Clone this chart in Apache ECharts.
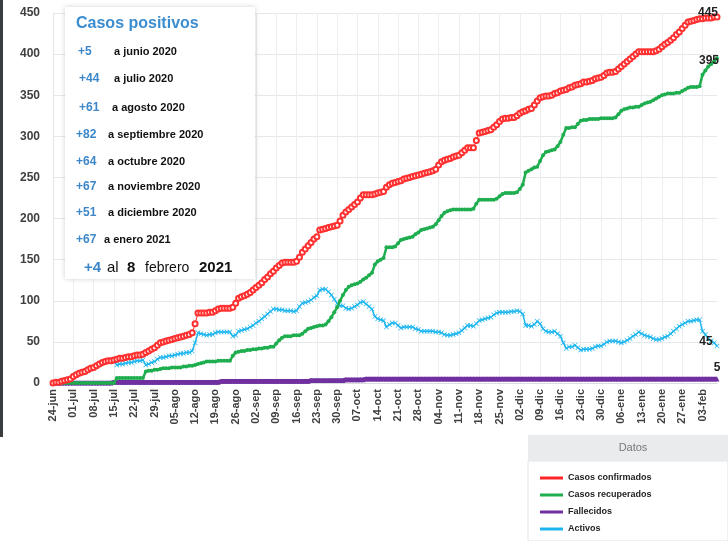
<!DOCTYPE html>
<html>
<head>
<meta charset="utf-8">
<script src="https://cdn.jsdelivr.net/npm/echarts@6/dist/echarts.min.js"></script>
<style>
html, body { margin: 0; padding: 0; background: #fff; }
#chart { width: 728px; height: 541px; }
</style>
</head>
<body>
<div id="chart"></div>
<script>
// daily values, 24-jun-2020 .. 08-feb-2021
const MONTHS = ["ene", "feb", "mar", "abr", "may", "jun", "jul", "ago", "sep", "oct", "nov", "dic"];
const START_DATE = [2020, 5, 24];
const DAY_COUNT = 230;

const confirmados = [
    0, 1, 1, 2, 3, 4, 5,
    8, 10, 12, 13, 14, 16, 18, 19, 21, 23, 25, 26, 27, 27, 28, 29, 30, 30, 31, 32, 32, 33, 34, 34, 35, 37, 39, 41, 43, 46, 49,
    50, 51, 52, 53, 54, 55, 56, 57, 58, 59, 61, 72, 85, 85, 85, 85, 86, 86, 88, 90, 91, 91, 91, 91, 92, 97, 103, 105, 106, 108, 110,
    113, 116, 119, 122, 126, 129, 133, 136, 140, 143, 146, 147, 147, 147, 147, 148, 153, 159, 163, 167, 171, 175, 178, 186, 187, 188, 189, 190, 191, 192,
    197, 204, 208, 211, 214, 217, 220, 225, 229, 229, 229, 229, 230, 231, 232, 233, 238, 241, 243, 244, 245, 246, 248, 249, 250, 251, 252, 253, 254, 255, 256,
    257, 258, 260, 265, 269, 271, 272, 273, 275, 276, 277, 280, 283, 286, 286, 286, 295, 304, 305, 306, 307, 308, 311, 314, 318, 321, 322, 322, 323, 323,
    325, 328, 330, 331, 333, 334, 338, 343, 347, 348, 349, 349, 350, 352, 353, 355, 356, 357, 359, 360, 362, 363, 364, 366, 366, 367, 368, 370, 371, 372, 374,
    377, 378, 378, 379, 382, 385, 388, 391, 394, 397, 400, 403, 403, 403, 403, 403, 403, 404, 406, 409, 412, 414, 417, 420, 424, 427, 431, 435, 439, 440, 441,
    442, 443, 443, 444, 444, 444, 445, 445
];

const recuperados = [
    0, 0, 0, 0, 0, 0, 0,
    0, 0, 0, 0, 0, 0, 0, 0, 0, 0, 0, 0, 0, 0, 0, 6, 6, 6, 6, 6, 6, 6, 6, 6, 6, 14, 15, 15, 16, 16, 17,
    18, 18, 18, 19, 19, 19, 19, 20, 20, 21, 21, 22, 23, 24, 25, 26, 26, 26, 26, 27, 27, 27, 27, 27, 33, 37, 38, 39, 39, 40, 40,
    41, 41, 42, 42, 43, 43, 44, 44, 48, 52, 55, 57, 57, 57, 58, 58, 58, 60, 63, 66, 67, 68, 69, 70, 70, 71, 75, 80, 86, 92,
    100, 107, 113, 117, 119, 120, 121, 123, 126, 128, 131, 134, 144, 148, 150, 152, 165, 165, 165, 166, 170, 174, 175, 176, 177, 178, 181, 183, 186, 187, 188,
    189, 190, 193, 198, 203, 207, 209, 210, 211, 211, 211, 211, 211, 211, 211, 212, 218, 223, 223, 223, 223, 223, 223, 224, 227, 230, 231, 231, 231, 231,
    232, 236, 241, 256, 258, 260, 262, 263, 270, 277, 281, 282, 283, 284, 288, 293, 302, 310, 310, 311, 311, 315, 319, 320, 320, 321, 321, 321, 321, 322, 322,
    322, 322, 322, 323, 327, 331, 333, 334, 335, 335, 336, 336, 338, 340, 341, 342, 344, 346, 348, 350, 351, 352, 352, 352, 353, 353, 355, 357, 359, 360, 360,
    360, 361, 375, 380, 385, 388, 391, 395
];

const fallecidos = [
    0, 0, 0, 0, 0, 0, 0,
    0, 0, 0, 0, 0, 0, 0, 0, 0, 0, 0, 0, 0, 0, 1, 1, 1, 1, 1, 1, 1, 1, 1, 1, 1, 1, 1, 1, 1, 1, 1,
    1, 1, 1, 1, 1, 1, 1, 1, 1, 1, 1, 1, 1, 1, 1, 1, 1, 1, 1, 1, 2, 2, 2, 2, 2, 2, 2, 2, 2, 2, 2,
    2, 2, 2, 2, 2, 2, 2, 2, 2, 2, 2, 2, 2, 2, 2, 2, 2, 2, 2, 2, 3, 3, 3, 3, 3, 3, 3, 3, 3, 3,
    3, 3, 4, 4, 4, 4, 4, 4, 4, 5, 5, 5, 5, 5, 5, 5, 5, 5, 5, 5, 5, 5, 5, 5, 5, 5, 5, 5, 5, 5, 5,
    5, 5, 5, 5, 5, 5, 5, 5, 5, 5, 5, 5, 5, 5, 5, 5, 5, 5, 5, 5, 5, 5, 5, 5, 5, 5, 5, 5, 5, 5,
    5, 5, 5, 5, 5, 5, 5, 5, 5, 5, 5, 5, 5, 5, 5, 5, 5, 5, 5, 5, 5, 5, 5, 5, 5, 5, 5, 5, 5, 5, 5,
    5, 5, 5, 5, 5, 5, 5, 5, 5, 5, 5, 5, 5, 5, 5, 5, 5, 5, 5, 5, 5, 5, 5, 5, 5, 5, 5, 5, 5, 5, 5,
    5, 5, 5, 5, 5, 5, 5, 5
];

const activos = [
    0, 1, 1, 2, 3, 4, 5,
    8, 10, 12, 13, 14, 16, 18, 19, 21, 23, 25, 26, 27, 27, 27, 22, 23, 23, 24, 25, 25, 26, 27, 27, 28, 22, 23, 25, 26, 29, 31,
    31, 32, 33, 33, 34, 35, 36, 36, 37, 37, 39, 49, 61, 60, 59, 58, 59, 59, 61, 62, 62, 62, 62, 62, 57, 58, 63, 64, 65, 66, 68,
    70, 73, 75, 78, 81, 84, 87, 90, 90, 89, 89, 88, 88, 88, 87, 88, 93, 97, 98, 99, 101, 104, 106, 113, 114, 114, 111, 107, 102, 97,
    94, 94, 91, 90, 91, 93, 95, 98, 99, 96, 93, 90, 81, 78, 77, 76, 68, 71, 73, 73, 70, 67, 68, 68, 68, 68, 66, 65, 63, 63, 63,
    63, 63, 62, 62, 61, 59, 58, 58, 59, 60, 61, 64, 67, 70, 70, 69, 72, 76, 77, 78, 79, 80, 83, 85, 86, 86, 86, 86, 87, 87,
    88, 87, 84, 70, 70, 69, 71, 75, 72, 66, 63, 62, 62, 63, 60, 57, 49, 42, 44, 44, 46, 43, 40, 41, 41, 41, 42, 44, 45, 45, 47,
    50, 51, 51, 51, 50, 49, 50, 52, 54, 57, 59, 62, 60, 58, 57, 56, 54, 53, 53, 54, 56, 57, 60, 63, 66, 69, 71, 73, 75, 75, 76,
    77, 77, 63, 59, 54, 51, 49, 45
];

const Y_TICKS = [0, 450, 50];

const POSITIVOS_TITLE = "Casos positivos";
const POSITIVOS_PLUS = ["+5", "+44", "+61", "+82", "+64", "+67", "+51", "+67"];
const POSITIVOS_TEXT = ["a junio 2020", "a julio 2020", "a agosto 2020", "a septiembre 2020", "a octubre 2020",
    "a noviembre 2020", "a diciembre 2020", "a enero 2021"];

const FONT = '"Liberation Sans", Arial, sans-serif';
const BLUE_TXT = "#3d87c9";

function buildDates() {
    const [y, m, d] = START_DATE;
    const out = [];
    for (let i = 0; i < DAY_COUNT; i++) {
        const date = new Date(y, m, d + i);
        out.push(String(date.getDate()).padStart(2, "0") + "-" + MONTHS[date.getMonth()]);
    }
    return out;
}

function withEndLabel(values, offset) {
    return values.map((v, i) => i < values.length - 1 ? v : {
        value: v,
        label: {
            show: true,
            position: "inside",
            offset,
            color: "#1f1f1f",
            fontFamily: FONT,
            fontSize: 12,
            fontWeight: "bold",
            formatter: String(v)
        }
    });
}

// cross marker for activos
const X_SYMBOL = "path://M0,1L1,0L5,4L9,0L10,1L6,5L10,9L9,10L5,6L1,10L0,9L4,5Z";

const posTexts = [];
const plusX = [78, 79, 79, 76, 76, 76, 76, 76];
const textX = [114, 114, 112, 108, 108, 108, 108, 104];
const rowY = [52, 79, 108, 135, 162, 187, 213, 240];
POSITIVOS_PLUS.forEach((p, i) => {
    posTexts.push({
        type: "text", x: plusX[i], y: rowY[i], z: 101,
        style: { text: p, fill: BLUE_TXT, font: "bold 12px " + FONT, textVerticalAlign: "middle" }
    });
    posTexts.push({
        type: "text", x: textX[i], y: rowY[i], z: 101,
        style: { text: POSITIVOS_TEXT[i], fill: "#111", font: "bold 11px " + FONT, textVerticalAlign: "middle" }
    });
});

const lastRow = [
    { text: "+4", x: 84, font: "bold 15px ", fill: BLUE_TXT },
    { text: "al", x: 107, font: "15px ", fill: "#111" },
    { text: "8", x: 127, font: "bold 15px ", fill: "#111" },
    { text: "febrero", x: 145, font: "14px ", fill: "#111" },
    { text: "2021", x: 199, font: "bold 15px ", fill: "#111" }
];
lastRow.forEach(t => {
    posTexts.push({
        type: "text", x: t.x, y: 268, z: 101,
        style: { text: t.text, fill: t.fill, font: t.font + FONT, textVerticalAlign: "middle" }
    });
});

const chart = echarts.init(document.getElementById("chart"));

chart.setOption({
    animation: false,
    backgroundColor: "#fff",
    grid: {
        left: 53,
        right: 11,
        top: 13,
        bottom: 158
    },
    xAxis: {
        type: "category",
        boundaryGap: false,
        data: buildDates(),
        axisTick: { show: false },
        axisLine: { lineStyle: { color: "#d9dcdf" } },
        axisLabel: {
            interval: 6,
            rotate: 90,
            margin: 6,
            color: "#404040",
            fontFamily: FONT,
            fontSize: 11,
            fontWeight: "bold"
        },
        splitLine: {
            show: true,
            interval: 6,
            lineStyle: { color: "#eceff1" }
        }
    },
    yAxis: {
        type: "value",
        min: Y_TICKS[0],
        max: Y_TICKS[1],
        interval: Y_TICKS[2],
        axisLine: { show: true, lineStyle: { color: "#e3e6e8" } },
        axisTick: { show: false },
        axisLabel: {
            margin: 13,
            color: "#404040",
            fontFamily: FONT,
            fontSize: 12,
            fontWeight: "bold"
        },
        splitLine: { lineStyle: { color: "#e6e9ec" } }
    },
    legend: {
        orient: "vertical",
        left: 540,
        top: 472,
        padding: 0,
        itemWidth: 23,
        itemHeight: 3,
        itemGap: 5,
        selectedMode: false,
        textStyle: {
            color: "#1f1f1f",
            fontFamily: FONT,
            fontSize: 9,
            fontWeight: "bold",
            lineHeight: 12
        },
        data: [
            { name: "Casos confirmados", icon: "rect", itemStyle: { color: "#ff2525" } },
            { name: "Casos recuperados", icon: "rect", itemStyle: { color: "#1fae4f" } },
            { name: "Fallecidos", icon: "rect", itemStyle: { color: "#7030a0" } },
            { name: "Activos", icon: "rect", itemStyle: { color: "#1cb5ef" } }
        ]
    },
    series: [
        {
            name: "Activos",
            type: "line",
            data: withEndLabel(activos, [-11, -4]),
            symbol: X_SYMBOL,
            symbolSize: 5,
            showAllSymbol: true,
            lineStyle: { width: 1.5, color: "#1cb5ef" },
            itemStyle: { color: "#1cb5ef" },
            z: 3
        },
        {
            name: "Fallecidos",
            type: "line",
            data: withEndLabel(fallecidos, [0, -11]),
            symbol: "triangle",
            symbolSize: 5,
            showAllSymbol: true,
            lineStyle: { width: 4.5, color: "#7030a0" },
            itemStyle: { color: "#7030a0" },
            z: 4
        },
        {
            name: "Casos recuperados",
            type: "line",
            data: withEndLabel(recuperados, [-8, 2]),
            symbol: "circle",
            symbolSize: 4,
            showAllSymbol: true,
            lineStyle: { width: 2.5, color: "#1fae4f" },
            itemStyle: { color: "#1fae4f" },
            z: 5
        },
        {
            name: "Casos confirmados",
            type: "line",
            data: withEndLabel(confirmados, [-9, -4]),
            symbol: "emptyCircle",
            symbolSize: 5,
            showAllSymbol: true,
            lineStyle: { width: 1, color: "#ff3030" },
            itemStyle: { color: "#ff3030", borderWidth: 1 },
            z: 6
        }
    ],
    graphic: [
        { type: "rect", left: 0, top: 0, z: 100, shape: { width: 3, height: 437 }, style: { fill: "#3a3d40" } },
        {
            type: "rect", x: 65, y: 7, z: 100,
            shape: { width: 190, height: 272 },
            style: { fill: "#fff", shadowBlur: 5, shadowColor: "rgba(0,0,0,0.18)" }
        },
        {
            type: "text", x: 76, y: 24, z: 101,
            style: { text: POSITIVOS_TITLE, fill: "#3b8dd0", font: "bold 16px " + FONT, textVerticalAlign: "middle" }
        },
        ...posTexts,
        {
            type: "rect", x: 528, y: 461, z: 1,
            shape: { width: 200, height: 80 },
            style: { fill: "#fff", stroke: "#e3e3e3", lineWidth: 1 }
        },
        {
            type: "rect", x: 528, y: 435, z: 1,
            shape: { width: 200, height: 26 },
            style: { fill: "#e9ebed" }
        },
        {
            type: "text", x: 633, y: 448, z: 2,
            style: { text: "Datos", fill: "#777", font: "11px " + FONT, textAlign: "center", textVerticalAlign: "middle" }
        }
    ]
});
</script>
</body>
</html>
